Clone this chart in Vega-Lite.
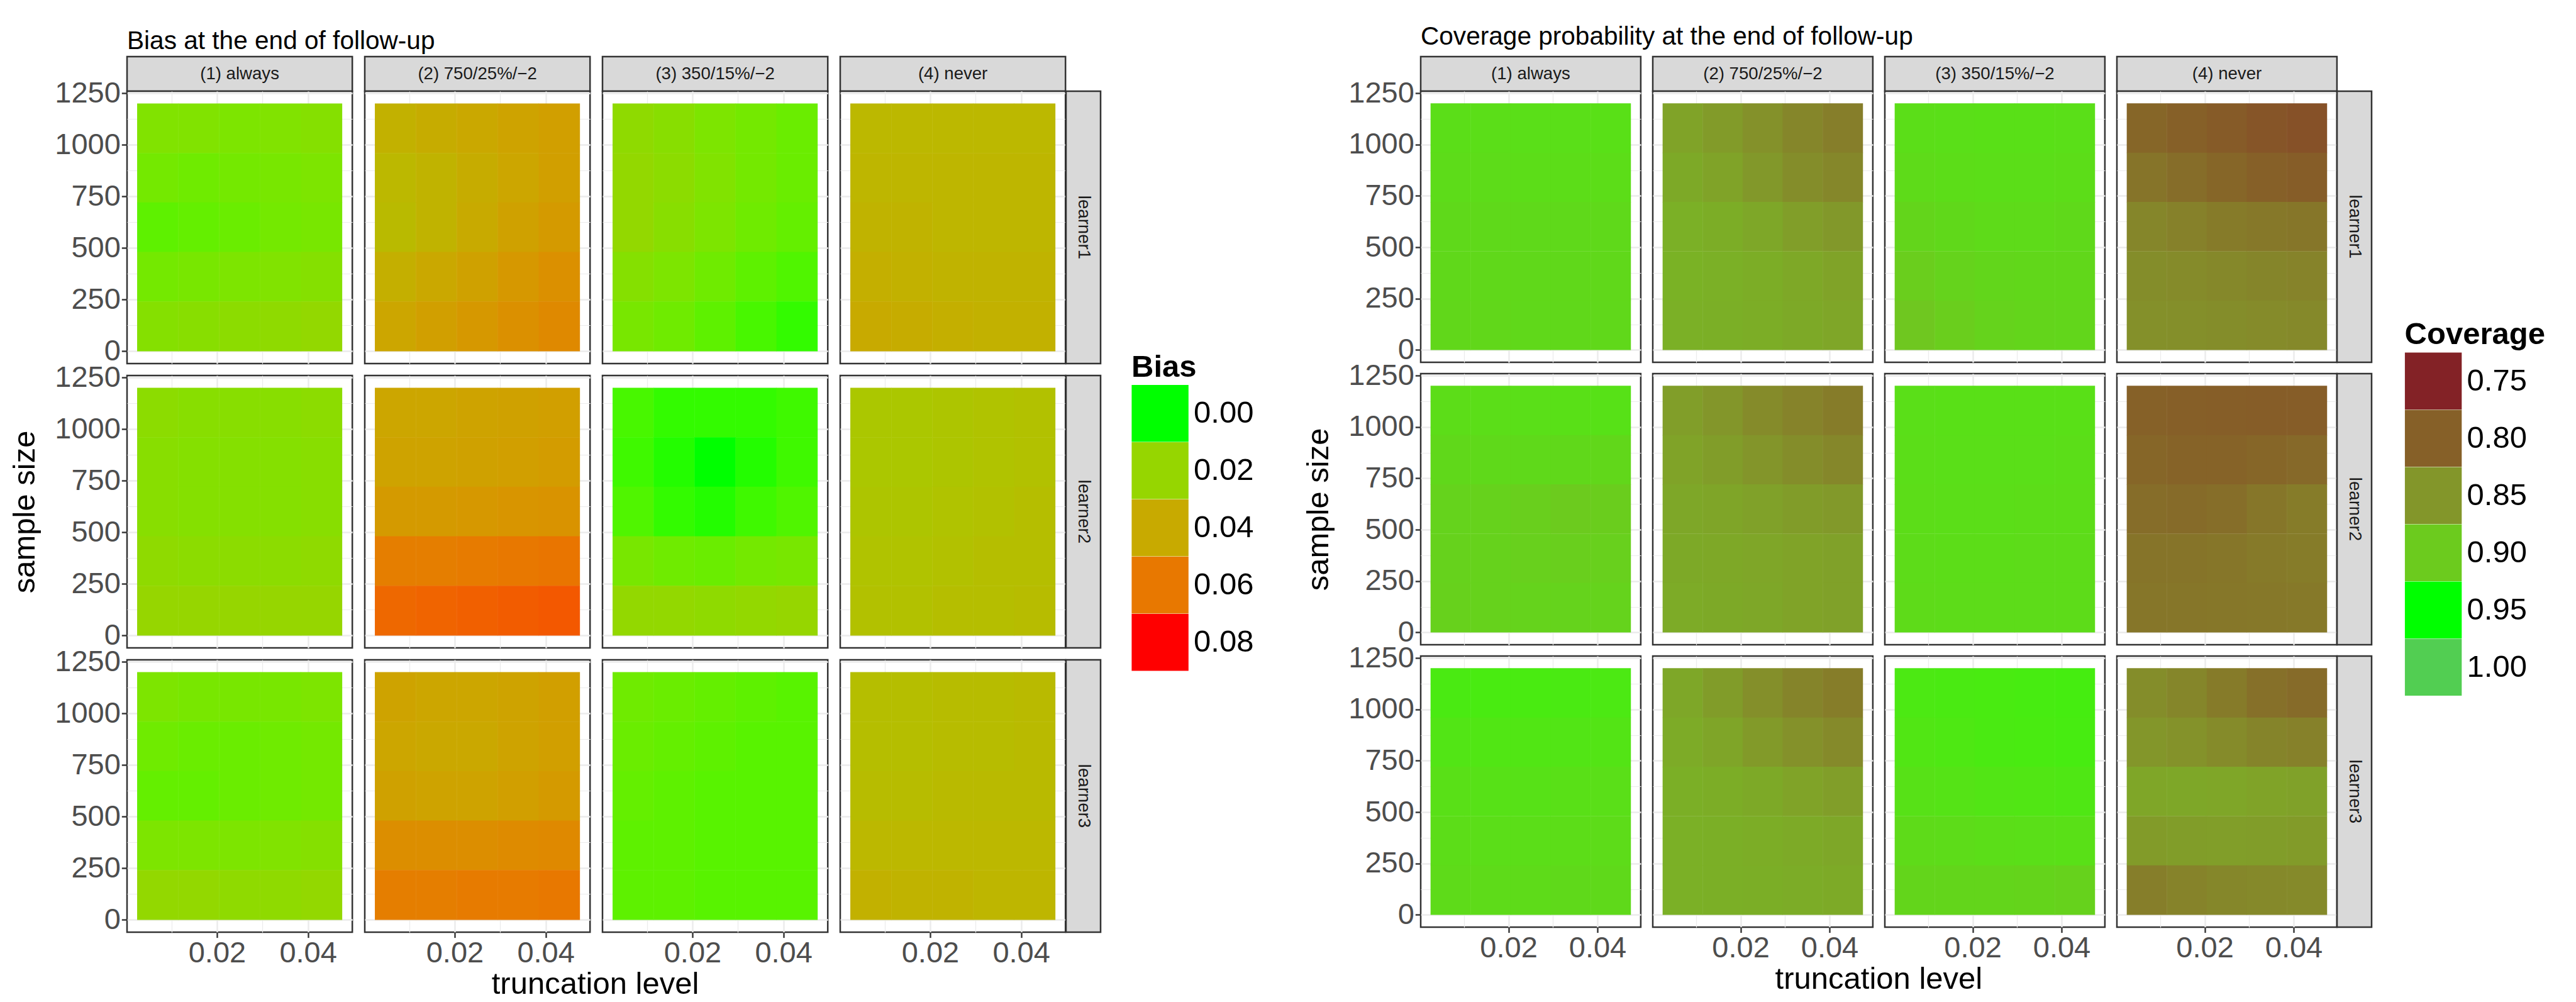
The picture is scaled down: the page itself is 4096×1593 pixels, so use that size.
{
"$schema":"https://vega.github.io/schema/vega-lite/v6.json",
"padding":{"left":14,"top":38,"right":0,"bottom":0},
"spacing":76,
"resolve":{"scale":{"color":"independent"}},
"config":{
"font":"Liberation Sans",
"view":{"stroke":null},
"axis":{"domain":false,"grid":true,"gridColor":"#EBEBEB","labelFont":"Liberation Sans","labelFontSize":47,"labelColor":"#4D4D4D","tickColor":"#333333","tickSize":8.7,"tickWidth":2.4,"labelPadding":2,"labelFlush":false,"labelOverlap":false,"titleFont":"Liberation Sans","titleFontSize":49,"titleFontWeight":"normal","titleColor":"#000000"},
"legend":{"orient":"none","symbolType":"square","symbolSize":8172,"symbolStrokeWidth":0,"symbolOpacity":1,"rowPadding":0,"labelFont":"Liberation Sans","labelFontSize":49,"labelColor":"#000000","labelOffset":8,"titleFont":"Liberation Sans","titleFontSize":49,"titleFontWeight":"bold","titleColor":"#000000","titlePadding":3,"titleLimit":600,"padding":0},
"title":{"font":"Liberation Sans","fontSize":40.6,"fontWeight":"normal","color":"#000000","anchor":"start","frame":"group"}
},
"datasets":{
"bias":[
{"l":1,"m":1,"x":0.007,"y":1080,"v":0.014},{"l":1,"m":1,"x":0.016,"y":1080,"v":0.014},{"l":1,"m":1,"x":0.025,"y":1080,"v":0.013},{"l":1,"m":1,"x":0.034,"y":1080,"v":0.014},{"l":1,"m":1,"x":0.043,"y":1080,"v":0.015},
{"l":1,"m":1,"x":0.007,"y":840,"v":0.011},{"l":1,"m":1,"x":0.016,"y":840,"v":0.010},{"l":1,"m":1,"x":0.025,"y":840,"v":0.011},{"l":1,"m":1,"x":0.034,"y":840,"v":0.012},{"l":1,"m":1,"x":0.043,"y":840,"v":0.013},
{"l":1,"m":1,"x":0.007,"y":600,"v":0.007},{"l":1,"m":1,"x":0.016,"y":600,"v":0.008},{"l":1,"m":1,"x":0.025,"y":600,"v":0.009},{"l":1,"m":1,"x":0.034,"y":600,"v":0.011},{"l":1,"m":1,"x":0.043,"y":600,"v":0.012},
{"l":1,"m":1,"x":0.007,"y":360,"v":0.011},{"l":1,"m":1,"x":0.016,"y":360,"v":0.012},{"l":1,"m":1,"x":0.025,"y":360,"v":0.013},{"l":1,"m":1,"x":0.034,"y":360,"v":0.014},{"l":1,"m":1,"x":0.043,"y":360,"v":0.015},
{"l":1,"m":1,"x":0.007,"y":120,"v":0.015},{"l":1,"m":1,"x":0.016,"y":120,"v":0.016},{"l":1,"m":1,"x":0.025,"y":120,"v":0.017},{"l":1,"m":1,"x":0.034,"y":120,"v":0.018},{"l":1,"m":1,"x":0.043,"y":120,"v":0.019},
{"l":1,"m":2,"x":0.007,"y":1080,"v":0.037},{"l":1,"m":2,"x":0.016,"y":1080,"v":0.039},{"l":1,"m":2,"x":0.025,"y":1080,"v":0.041},{"l":1,"m":2,"x":0.034,"y":1080,"v":0.043},{"l":1,"m":2,"x":0.043,"y":1080,"v":0.045},
{"l":1,"m":2,"x":0.007,"y":840,"v":0.034},{"l":1,"m":2,"x":0.016,"y":840,"v":0.036},{"l":1,"m":2,"x":0.025,"y":840,"v":0.039},{"l":1,"m":2,"x":0.034,"y":840,"v":0.042},{"l":1,"m":2,"x":0.043,"y":840,"v":0.045},
{"l":1,"m":2,"x":0.007,"y":600,"v":0.033},{"l":1,"m":2,"x":0.016,"y":600,"v":0.036},{"l":1,"m":2,"x":0.025,"y":600,"v":0.040},{"l":1,"m":2,"x":0.034,"y":600,"v":0.044},{"l":1,"m":2,"x":0.043,"y":600,"v":0.047},
{"l":1,"m":2,"x":0.007,"y":360,"v":0.038},{"l":1,"m":2,"x":0.016,"y":360,"v":0.041},{"l":1,"m":2,"x":0.025,"y":360,"v":0.044},{"l":1,"m":2,"x":0.034,"y":360,"v":0.048},{"l":1,"m":2,"x":0.043,"y":360,"v":0.051},
{"l":1,"m":2,"x":0.007,"y":120,"v":0.042},{"l":1,"m":2,"x":0.016,"y":120,"v":0.045},{"l":1,"m":2,"x":0.025,"y":120,"v":0.048},{"l":1,"m":2,"x":0.034,"y":120,"v":0.051},{"l":1,"m":2,"x":0.043,"y":120,"v":0.054},
{"l":1,"m":3,"x":0.007,"y":1080,"v":0.018},{"l":1,"m":3,"x":0.016,"y":1080,"v":0.016},{"l":1,"m":3,"x":0.025,"y":1080,"v":0.013},{"l":1,"m":3,"x":0.034,"y":1080,"v":0.011},{"l":1,"m":3,"x":0.043,"y":1080,"v":0.009},
{"l":1,"m":3,"x":0.007,"y":840,"v":0.019},{"l":1,"m":3,"x":0.016,"y":840,"v":0.017},{"l":1,"m":3,"x":0.025,"y":840,"v":0.014},{"l":1,"m":3,"x":0.034,"y":840,"v":0.011},{"l":1,"m":3,"x":0.043,"y":840,"v":0.009},
{"l":1,"m":3,"x":0.007,"y":600,"v":0.019},{"l":1,"m":3,"x":0.016,"y":600,"v":0.016},{"l":1,"m":3,"x":0.025,"y":600,"v":0.013},{"l":1,"m":3,"x":0.034,"y":600,"v":0.010},{"l":1,"m":3,"x":0.043,"y":600,"v":0.008},
{"l":1,"m":3,"x":0.007,"y":360,"v":0.015},{"l":1,"m":3,"x":0.016,"y":360,"v":0.013},{"l":1,"m":3,"x":0.025,"y":360,"v":0.010},{"l":1,"m":3,"x":0.034,"y":360,"v":0.007},{"l":1,"m":3,"x":0.043,"y":360,"v":0.005},
{"l":1,"m":3,"x":0.007,"y":120,"v":0.012},{"l":1,"m":3,"x":0.016,"y":120,"v":0.010},{"l":1,"m":3,"x":0.025,"y":120,"v":0.007},{"l":1,"m":3,"x":0.034,"y":120,"v":0.004},{"l":1,"m":3,"x":0.043,"y":120,"v":0.002},
{"l":1,"m":4,"x":0.007,"y":1080,"v":0.034},{"l":1,"m":4,"x":0.016,"y":1080,"v":0.034},{"l":1,"m":4,"x":0.025,"y":1080,"v":0.034},{"l":1,"m":4,"x":0.034,"y":1080,"v":0.034},{"l":1,"m":4,"x":0.043,"y":1080,"v":0.034},
{"l":1,"m":4,"x":0.007,"y":840,"v":0.035},{"l":1,"m":4,"x":0.016,"y":840,"v":0.035},{"l":1,"m":4,"x":0.025,"y":840,"v":0.035},{"l":1,"m":4,"x":0.034,"y":840,"v":0.035},{"l":1,"m":4,"x":0.043,"y":840,"v":0.035},
{"l":1,"m":4,"x":0.007,"y":600,"v":0.036},{"l":1,"m":4,"x":0.016,"y":600,"v":0.036},{"l":1,"m":4,"x":0.025,"y":600,"v":0.035},{"l":1,"m":4,"x":0.034,"y":600,"v":0.035},{"l":1,"m":4,"x":0.043,"y":600,"v":0.035},
{"l":1,"m":4,"x":0.007,"y":360,"v":0.038},{"l":1,"m":4,"x":0.016,"y":360,"v":0.037},{"l":1,"m":4,"x":0.025,"y":360,"v":0.036},{"l":1,"m":4,"x":0.034,"y":360,"v":0.036},{"l":1,"m":4,"x":0.043,"y":360,"v":0.036},
{"l":1,"m":4,"x":0.007,"y":120,"v":0.040},{"l":1,"m":4,"x":0.016,"y":120,"v":0.039},{"l":1,"m":4,"x":0.025,"y":120,"v":0.038},{"l":1,"m":4,"x":0.034,"y":120,"v":0.037},{"l":1,"m":4,"x":0.043,"y":120,"v":0.037},
{"l":2,"m":1,"x":0.007,"y":1080,"v":0.017},{"l":2,"m":1,"x":0.016,"y":1080,"v":0.016},{"l":2,"m":1,"x":0.025,"y":1080,"v":0.016},{"l":2,"m":1,"x":0.034,"y":1080,"v":0.016},{"l":2,"m":1,"x":0.043,"y":1080,"v":0.017},
{"l":2,"m":1,"x":0.007,"y":840,"v":0.016},{"l":2,"m":1,"x":0.016,"y":840,"v":0.015},{"l":2,"m":1,"x":0.025,"y":840,"v":0.015},{"l":2,"m":1,"x":0.034,"y":840,"v":0.015},{"l":2,"m":1,"x":0.043,"y":840,"v":0.016},
{"l":2,"m":1,"x":0.007,"y":600,"v":0.016},{"l":2,"m":1,"x":0.016,"y":600,"v":0.015},{"l":2,"m":1,"x":0.025,"y":600,"v":0.015},{"l":2,"m":1,"x":0.034,"y":600,"v":0.015},{"l":2,"m":1,"x":0.043,"y":600,"v":0.016},
{"l":2,"m":1,"x":0.007,"y":360,"v":0.018},{"l":2,"m":1,"x":0.016,"y":360,"v":0.017},{"l":2,"m":1,"x":0.025,"y":360,"v":0.017},{"l":2,"m":1,"x":0.034,"y":360,"v":0.017},{"l":2,"m":1,"x":0.043,"y":360,"v":0.018},
{"l":2,"m":1,"x":0.007,"y":120,"v":0.020},{"l":2,"m":1,"x":0.016,"y":120,"v":0.020},{"l":2,"m":1,"x":0.025,"y":120,"v":0.020},{"l":2,"m":1,"x":0.034,"y":120,"v":0.020},{"l":2,"m":1,"x":0.043,"y":120,"v":0.020},
{"l":2,"m":2,"x":0.007,"y":1080,"v":0.042},{"l":2,"m":2,"x":0.016,"y":1080,"v":0.042},{"l":2,"m":2,"x":0.025,"y":1080,"v":0.043},{"l":2,"m":2,"x":0.034,"y":1080,"v":0.044},{"l":2,"m":2,"x":0.043,"y":1080,"v":0.045},
{"l":2,"m":2,"x":0.007,"y":840,"v":0.043},{"l":2,"m":2,"x":0.016,"y":840,"v":0.043},{"l":2,"m":2,"x":0.025,"y":840,"v":0.044},{"l":2,"m":2,"x":0.034,"y":840,"v":0.045},{"l":2,"m":2,"x":0.043,"y":840,"v":0.046},
{"l":2,"m":2,"x":0.007,"y":600,"v":0.047},{"l":2,"m":2,"x":0.016,"y":600,"v":0.047},{"l":2,"m":2,"x":0.025,"y":600,"v":0.048},{"l":2,"m":2,"x":0.034,"y":600,"v":0.049},{"l":2,"m":2,"x":0.043,"y":600,"v":0.050},
{"l":2,"m":2,"x":0.007,"y":360,"v":0.058},{"l":2,"m":2,"x":0.016,"y":360,"v":0.058},{"l":2,"m":2,"x":0.025,"y":360,"v":0.059},{"l":2,"m":2,"x":0.034,"y":360,"v":0.060},{"l":2,"m":2,"x":0.043,"y":360,"v":0.061},
{"l":2,"m":2,"x":0.007,"y":120,"v":0.065},{"l":2,"m":2,"x":0.016,"y":120,"v":0.066},{"l":2,"m":2,"x":0.025,"y":120,"v":0.067},{"l":2,"m":2,"x":0.034,"y":120,"v":0.068},{"l":2,"m":2,"x":0.043,"y":120,"v":0.069},
{"l":2,"m":3,"x":0.007,"y":1080,"v":0.004},{"l":2,"m":3,"x":0.016,"y":1080,"v":0.002},{"l":2,"m":3,"x":0.025,"y":1080,"v":0.002},{"l":2,"m":3,"x":0.034,"y":1080,"v":0.002},{"l":2,"m":3,"x":0.043,"y":1080,"v":0.003},
{"l":2,"m":3,"x":0.007,"y":840,"v":0.003},{"l":2,"m":3,"x":0.016,"y":840,"v":0.001},{"l":2,"m":3,"x":0.025,"y":840,"v":0.000},{"l":2,"m":3,"x":0.034,"y":840,"v":0.001},{"l":2,"m":3,"x":0.043,"y":840,"v":0.003},
{"l":2,"m":3,"x":0.007,"y":600,"v":0.005},{"l":2,"m":3,"x":0.016,"y":600,"v":0.002},{"l":2,"m":3,"x":0.025,"y":600,"v":0.001},{"l":2,"m":3,"x":0.034,"y":600,"v":0.003},{"l":2,"m":3,"x":0.043,"y":600,"v":0.005},
{"l":2,"m":3,"x":0.007,"y":360,"v":0.012},{"l":2,"m":3,"x":0.016,"y":360,"v":0.010},{"l":2,"m":3,"x":0.025,"y":360,"v":0.009},{"l":2,"m":3,"x":0.034,"y":360,"v":0.011},{"l":2,"m":3,"x":0.043,"y":360,"v":0.012},
{"l":2,"m":3,"x":0.007,"y":120,"v":0.019},{"l":2,"m":3,"x":0.016,"y":120,"v":0.019},{"l":2,"m":3,"x":0.025,"y":120,"v":0.018},{"l":2,"m":3,"x":0.034,"y":120,"v":0.019},{"l":2,"m":3,"x":0.043,"y":120,"v":0.020},
{"l":2,"m":4,"x":0.007,"y":1080,"v":0.027},{"l":2,"m":4,"x":0.016,"y":1080,"v":0.027},{"l":2,"m":4,"x":0.025,"y":1080,"v":0.028},{"l":2,"m":4,"x":0.034,"y":1080,"v":0.029},{"l":2,"m":4,"x":0.043,"y":1080,"v":0.030},
{"l":2,"m":4,"x":0.007,"y":840,"v":0.027},{"l":2,"m":4,"x":0.016,"y":840,"v":0.027},{"l":2,"m":4,"x":0.025,"y":840,"v":0.028},{"l":2,"m":4,"x":0.034,"y":840,"v":0.029},{"l":2,"m":4,"x":0.043,"y":840,"v":0.030},
{"l":2,"m":4,"x":0.007,"y":600,"v":0.028},{"l":2,"m":4,"x":0.016,"y":600,"v":0.028},{"l":2,"m":4,"x":0.025,"y":600,"v":0.029},{"l":2,"m":4,"x":0.034,"y":600,"v":0.030},{"l":2,"m":4,"x":0.043,"y":600,"v":0.031},
{"l":2,"m":4,"x":0.007,"y":360,"v":0.029},{"l":2,"m":4,"x":0.016,"y":360,"v":0.029},{"l":2,"m":4,"x":0.025,"y":360,"v":0.030},{"l":2,"m":4,"x":0.034,"y":360,"v":0.031},{"l":2,"m":4,"x":0.043,"y":360,"v":0.031},
{"l":2,"m":4,"x":0.007,"y":120,"v":0.030},{"l":2,"m":4,"x":0.016,"y":120,"v":0.030},{"l":2,"m":4,"x":0.025,"y":120,"v":0.031},{"l":2,"m":4,"x":0.034,"y":120,"v":0.031},{"l":2,"m":4,"x":0.043,"y":120,"v":0.032},
{"l":3,"m":1,"x":0.007,"y":1080,"v":0.013},{"l":3,"m":1,"x":0.016,"y":1080,"v":0.012},{"l":3,"m":1,"x":0.025,"y":1080,"v":0.012},{"l":3,"m":1,"x":0.034,"y":1080,"v":0.012},{"l":3,"m":1,"x":0.043,"y":1080,"v":0.013},
{"l":3,"m":1,"x":0.007,"y":840,"v":0.010},{"l":3,"m":1,"x":0.016,"y":840,"v":0.009},{"l":3,"m":1,"x":0.025,"y":840,"v":0.009},{"l":3,"m":1,"x":0.034,"y":840,"v":0.010},{"l":3,"m":1,"x":0.043,"y":840,"v":0.011},
{"l":3,"m":1,"x":0.007,"y":600,"v":0.008},{"l":3,"m":1,"x":0.016,"y":600,"v":0.008},{"l":3,"m":1,"x":0.025,"y":600,"v":0.009},{"l":3,"m":1,"x":0.034,"y":600,"v":0.010},{"l":3,"m":1,"x":0.043,"y":600,"v":0.011},
{"l":3,"m":1,"x":0.007,"y":360,"v":0.013},{"l":3,"m":1,"x":0.016,"y":360,"v":0.013},{"l":3,"m":1,"x":0.025,"y":360,"v":0.013},{"l":3,"m":1,"x":0.034,"y":360,"v":0.014},{"l":3,"m":1,"x":0.043,"y":360,"v":0.015},
{"l":3,"m":1,"x":0.007,"y":120,"v":0.019},{"l":3,"m":1,"x":0.016,"y":120,"v":0.019},{"l":3,"m":1,"x":0.025,"y":120,"v":0.018},{"l":3,"m":1,"x":0.034,"y":120,"v":0.018},{"l":3,"m":1,"x":0.043,"y":120,"v":0.019},
{"l":3,"m":2,"x":0.007,"y":1080,"v":0.043},{"l":3,"m":2,"x":0.016,"y":1080,"v":0.042},{"l":3,"m":2,"x":0.025,"y":1080,"v":0.042},{"l":3,"m":2,"x":0.034,"y":1080,"v":0.043},{"l":3,"m":2,"x":0.043,"y":1080,"v":0.045},
{"l":3,"m":2,"x":0.007,"y":840,"v":0.042},{"l":3,"m":2,"x":0.016,"y":840,"v":0.041},{"l":3,"m":2,"x":0.025,"y":840,"v":0.041},{"l":3,"m":2,"x":0.034,"y":840,"v":0.043},{"l":3,"m":2,"x":0.043,"y":840,"v":0.045},
{"l":3,"m":2,"x":0.007,"y":600,"v":0.044},{"l":3,"m":2,"x":0.016,"y":600,"v":0.043},{"l":3,"m":2,"x":0.025,"y":600,"v":0.043},{"l":3,"m":2,"x":0.034,"y":600,"v":0.045},{"l":3,"m":2,"x":0.043,"y":600,"v":0.047},
{"l":3,"m":2,"x":0.007,"y":360,"v":0.052},{"l":3,"m":2,"x":0.016,"y":360,"v":0.052},{"l":3,"m":2,"x":0.025,"y":360,"v":0.052},{"l":3,"m":2,"x":0.034,"y":360,"v":0.053},{"l":3,"m":2,"x":0.043,"y":360,"v":0.054},
{"l":3,"m":2,"x":0.007,"y":120,"v":0.058},{"l":3,"m":2,"x":0.016,"y":120,"v":0.058},{"l":3,"m":2,"x":0.025,"y":120,"v":0.059},{"l":3,"m":2,"x":0.034,"y":120,"v":0.059},{"l":3,"m":2,"x":0.043,"y":120,"v":0.060},
{"l":3,"m":3,"x":0.007,"y":1080,"v":0.010},{"l":3,"m":3,"x":0.016,"y":1080,"v":0.009},{"l":3,"m":3,"x":0.025,"y":1080,"v":0.008},{"l":3,"m":3,"x":0.034,"y":1080,"v":0.007},{"l":3,"m":3,"x":0.043,"y":1080,"v":0.006},
{"l":3,"m":3,"x":0.007,"y":840,"v":0.009},{"l":3,"m":3,"x":0.016,"y":840,"v":0.008},{"l":3,"m":3,"x":0.025,"y":840,"v":0.007},{"l":3,"m":3,"x":0.034,"y":840,"v":0.006},{"l":3,"m":3,"x":0.043,"y":840,"v":0.006},
{"l":3,"m":3,"x":0.007,"y":600,"v":0.008},{"l":3,"m":3,"x":0.016,"y":600,"v":0.007},{"l":3,"m":3,"x":0.025,"y":600,"v":0.006},{"l":3,"m":3,"x":0.034,"y":600,"v":0.006},{"l":3,"m":3,"x":0.043,"y":600,"v":0.006},
{"l":3,"m":3,"x":0.007,"y":360,"v":0.007},{"l":3,"m":3,"x":0.016,"y":360,"v":0.007},{"l":3,"m":3,"x":0.025,"y":360,"v":0.006},{"l":3,"m":3,"x":0.034,"y":360,"v":0.006},{"l":3,"m":3,"x":0.043,"y":360,"v":0.006},
{"l":3,"m":3,"x":0.007,"y":120,"v":0.007},{"l":3,"m":3,"x":0.016,"y":120,"v":0.007},{"l":3,"m":3,"x":0.025,"y":120,"v":0.006},{"l":3,"m":3,"x":0.034,"y":120,"v":0.006},{"l":3,"m":3,"x":0.043,"y":120,"v":0.006},
{"l":3,"m":4,"x":0.007,"y":1080,"v":0.031},{"l":3,"m":4,"x":0.016,"y":1080,"v":0.031},{"l":3,"m":4,"x":0.025,"y":1080,"v":0.032},{"l":3,"m":4,"x":0.034,"y":1080,"v":0.032},{"l":3,"m":4,"x":0.043,"y":1080,"v":0.033},
{"l":3,"m":4,"x":0.007,"y":840,"v":0.031},{"l":3,"m":4,"x":0.016,"y":840,"v":0.031},{"l":3,"m":4,"x":0.025,"y":840,"v":0.032},{"l":3,"m":4,"x":0.034,"y":840,"v":0.032},{"l":3,"m":4,"x":0.043,"y":840,"v":0.033},
{"l":3,"m":4,"x":0.007,"y":600,"v":0.032},{"l":3,"m":4,"x":0.016,"y":600,"v":0.032},{"l":3,"m":4,"x":0.025,"y":600,"v":0.033},{"l":3,"m":4,"x":0.034,"y":600,"v":0.033},{"l":3,"m":4,"x":0.043,"y":600,"v":0.033},
{"l":3,"m":4,"x":0.007,"y":360,"v":0.034},{"l":3,"m":4,"x":0.016,"y":360,"v":0.034},{"l":3,"m":4,"x":0.025,"y":360,"v":0.034},{"l":3,"m":4,"x":0.034,"y":360,"v":0.034},{"l":3,"m":4,"x":0.043,"y":360,"v":0.034},
{"l":3,"m":4,"x":0.007,"y":120,"v":0.037},{"l":3,"m":4,"x":0.016,"y":120,"v":0.036},{"l":3,"m":4,"x":0.025,"y":120,"v":0.036},{"l":3,"m":4,"x":0.034,"y":120,"v":0.035},{"l":3,"m":4,"x":0.043,"y":120,"v":0.035}
],
"cov":[
{"l":1,"m":1,"x":0.007,"y":1080,"v":0.918},{"l":1,"m":1,"x":0.016,"y":1080,"v":0.918},{"l":1,"m":1,"x":0.025,"y":1080,"v":0.919},{"l":1,"m":1,"x":0.034,"y":1080,"v":0.919},{"l":1,"m":1,"x":0.043,"y":1080,"v":0.920},
{"l":1,"m":1,"x":0.007,"y":840,"v":0.916},{"l":1,"m":1,"x":0.016,"y":840,"v":0.916},{"l":1,"m":1,"x":0.025,"y":840,"v":0.917},{"l":1,"m":1,"x":0.034,"y":840,"v":0.917},{"l":1,"m":1,"x":0.043,"y":840,"v":0.917},
{"l":1,"m":1,"x":0.007,"y":600,"v":0.914},{"l":1,"m":1,"x":0.016,"y":600,"v":0.914},{"l":1,"m":1,"x":0.025,"y":600,"v":0.914},{"l":1,"m":1,"x":0.034,"y":600,"v":0.914},{"l":1,"m":1,"x":0.043,"y":600,"v":0.914},
{"l":1,"m":1,"x":0.007,"y":360,"v":0.913},{"l":1,"m":1,"x":0.016,"y":360,"v":0.913},{"l":1,"m":1,"x":0.025,"y":360,"v":0.913},{"l":1,"m":1,"x":0.034,"y":360,"v":0.913},{"l":1,"m":1,"x":0.043,"y":360,"v":0.913},
{"l":1,"m":1,"x":0.007,"y":120,"v":0.912},{"l":1,"m":1,"x":0.016,"y":120,"v":0.912},{"l":1,"m":1,"x":0.025,"y":120,"v":0.913},{"l":1,"m":1,"x":0.034,"y":120,"v":0.913},{"l":1,"m":1,"x":0.043,"y":120,"v":0.913},
{"l":1,"m":2,"x":0.007,"y":1080,"v":0.862},{"l":1,"m":2,"x":0.016,"y":1080,"v":0.855},{"l":1,"m":2,"x":0.025,"y":1080,"v":0.845},{"l":1,"m":2,"x":0.034,"y":1080,"v":0.835},{"l":1,"m":2,"x":0.043,"y":1080,"v":0.828},
{"l":1,"m":2,"x":0.007,"y":840,"v":0.868},{"l":1,"m":2,"x":0.016,"y":840,"v":0.862},{"l":1,"m":2,"x":0.025,"y":840,"v":0.852},{"l":1,"m":2,"x":0.034,"y":840,"v":0.842},{"l":1,"m":2,"x":0.043,"y":840,"v":0.836},
{"l":1,"m":2,"x":0.007,"y":600,"v":0.875},{"l":1,"m":2,"x":0.016,"y":600,"v":0.872},{"l":1,"m":2,"x":0.025,"y":600,"v":0.866},{"l":1,"m":2,"x":0.034,"y":600,"v":0.858},{"l":1,"m":2,"x":0.043,"y":600,"v":0.852},
{"l":1,"m":2,"x":0.007,"y":360,"v":0.876},{"l":1,"m":2,"x":0.016,"y":360,"v":0.875},{"l":1,"m":2,"x":0.025,"y":360,"v":0.872},{"l":1,"m":2,"x":0.034,"y":360,"v":0.867},{"l":1,"m":2,"x":0.043,"y":360,"v":0.862},
{"l":1,"m":2,"x":0.007,"y":120,"v":0.875},{"l":1,"m":2,"x":0.016,"y":120,"v":0.874},{"l":1,"m":2,"x":0.025,"y":120,"v":0.872},{"l":1,"m":2,"x":0.034,"y":120,"v":0.868},{"l":1,"m":2,"x":0.043,"y":120,"v":0.865},
{"l":1,"m":3,"x":0.007,"y":1080,"v":0.918},{"l":1,"m":3,"x":0.016,"y":1080,"v":0.919},{"l":1,"m":3,"x":0.025,"y":1080,"v":0.920},{"l":1,"m":3,"x":0.034,"y":1080,"v":0.920},{"l":1,"m":3,"x":0.043,"y":1080,"v":0.919},
{"l":1,"m":3,"x":0.007,"y":840,"v":0.915},{"l":1,"m":3,"x":0.016,"y":840,"v":0.917},{"l":1,"m":3,"x":0.025,"y":840,"v":0.918},{"l":1,"m":3,"x":0.034,"y":840,"v":0.918},{"l":1,"m":3,"x":0.043,"y":840,"v":0.917},
{"l":1,"m":3,"x":0.007,"y":600,"v":0.910},{"l":1,"m":3,"x":0.016,"y":600,"v":0.913},{"l":1,"m":3,"x":0.025,"y":600,"v":0.915},{"l":1,"m":3,"x":0.034,"y":600,"v":0.915},{"l":1,"m":3,"x":0.043,"y":600,"v":0.914},
{"l":1,"m":3,"x":0.007,"y":360,"v":0.903},{"l":1,"m":3,"x":0.016,"y":360,"v":0.908},{"l":1,"m":3,"x":0.025,"y":360,"v":0.911},{"l":1,"m":3,"x":0.034,"y":360,"v":0.912},{"l":1,"m":3,"x":0.043,"y":360,"v":0.912},
{"l":1,"m":3,"x":0.007,"y":120,"v":0.896},{"l":1,"m":3,"x":0.016,"y":120,"v":0.903},{"l":1,"m":3,"x":0.025,"y":120,"v":0.908},{"l":1,"m":3,"x":0.034,"y":120,"v":0.910},{"l":1,"m":3,"x":0.043,"y":120,"v":0.911},
{"l":1,"m":4,"x":0.007,"y":1080,"v":0.805},{"l":1,"m":4,"x":0.016,"y":1080,"v":0.800},{"l":1,"m":4,"x":0.025,"y":1080,"v":0.795},{"l":1,"m":4,"x":0.034,"y":1080,"v":0.790},{"l":1,"m":4,"x":0.043,"y":1080,"v":0.786},
{"l":1,"m":4,"x":0.007,"y":840,"v":0.818},{"l":1,"m":4,"x":0.016,"y":840,"v":0.812},{"l":1,"m":4,"x":0.025,"y":840,"v":0.805},{"l":1,"m":4,"x":0.034,"y":840,"v":0.800},{"l":1,"m":4,"x":0.043,"y":840,"v":0.797},
{"l":1,"m":4,"x":0.007,"y":600,"v":0.835},{"l":1,"m":4,"x":0.016,"y":600,"v":0.830},{"l":1,"m":4,"x":0.025,"y":600,"v":0.825},{"l":1,"m":4,"x":0.034,"y":600,"v":0.822},{"l":1,"m":4,"x":0.043,"y":600,"v":0.820},
{"l":1,"m":4,"x":0.007,"y":360,"v":0.842},{"l":1,"m":4,"x":0.016,"y":360,"v":0.840},{"l":1,"m":4,"x":0.025,"y":360,"v":0.837},{"l":1,"m":4,"x":0.034,"y":360,"v":0.834},{"l":1,"m":4,"x":0.043,"y":360,"v":0.832},
{"l":1,"m":4,"x":0.007,"y":120,"v":0.844},{"l":1,"m":4,"x":0.016,"y":120,"v":0.843},{"l":1,"m":4,"x":0.025,"y":120,"v":0.842},{"l":1,"m":4,"x":0.034,"y":120,"v":0.840},{"l":1,"m":4,"x":0.043,"y":120,"v":0.838},
{"l":2,"m":1,"x":0.007,"y":1080,"v":0.917},{"l":2,"m":1,"x":0.016,"y":1080,"v":0.918},{"l":2,"m":1,"x":0.025,"y":1080,"v":0.919},{"l":2,"m":1,"x":0.034,"y":1080,"v":0.920},{"l":2,"m":1,"x":0.043,"y":1080,"v":0.921},
{"l":2,"m":1,"x":0.007,"y":840,"v":0.913},{"l":2,"m":1,"x":0.016,"y":840,"v":0.914},{"l":2,"m":1,"x":0.025,"y":840,"v":0.914},{"l":2,"m":1,"x":0.034,"y":840,"v":0.913},{"l":2,"m":1,"x":0.043,"y":840,"v":0.912},
{"l":2,"m":1,"x":0.007,"y":600,"v":0.908},{"l":2,"m":1,"x":0.016,"y":600,"v":0.907},{"l":2,"m":1,"x":0.025,"y":600,"v":0.904},{"l":2,"m":1,"x":0.034,"y":600,"v":0.900},{"l":2,"m":1,"x":0.043,"y":600,"v":0.902},
{"l":2,"m":1,"x":0.007,"y":360,"v":0.907},{"l":2,"m":1,"x":0.016,"y":360,"v":0.907},{"l":2,"m":1,"x":0.025,"y":360,"v":0.905},{"l":2,"m":1,"x":0.034,"y":360,"v":0.904},{"l":2,"m":1,"x":0.043,"y":360,"v":0.905},
{"l":2,"m":1,"x":0.007,"y":120,"v":0.906},{"l":2,"m":1,"x":0.016,"y":120,"v":0.907},{"l":2,"m":1,"x":0.025,"y":120,"v":0.908},{"l":2,"m":1,"x":0.034,"y":120,"v":0.908},{"l":2,"m":1,"x":0.043,"y":120,"v":0.908},
{"l":2,"m":2,"x":0.007,"y":1080,"v":0.858},{"l":2,"m":2,"x":0.016,"y":1080,"v":0.850},{"l":2,"m":2,"x":0.025,"y":1080,"v":0.840},{"l":2,"m":2,"x":0.034,"y":1080,"v":0.832},{"l":2,"m":2,"x":0.043,"y":1080,"v":0.826},
{"l":2,"m":2,"x":0.007,"y":840,"v":0.862},{"l":2,"m":2,"x":0.016,"y":840,"v":0.857},{"l":2,"m":2,"x":0.025,"y":840,"v":0.849},{"l":2,"m":2,"x":0.034,"y":840,"v":0.842},{"l":2,"m":2,"x":0.043,"y":840,"v":0.836},
{"l":2,"m":2,"x":0.007,"y":600,"v":0.866},{"l":2,"m":2,"x":0.016,"y":600,"v":0.864},{"l":2,"m":2,"x":0.025,"y":600,"v":0.860},{"l":2,"m":2,"x":0.034,"y":600,"v":0.856},{"l":2,"m":2,"x":0.043,"y":600,"v":0.853},
{"l":2,"m":2,"x":0.007,"y":360,"v":0.868},{"l":2,"m":2,"x":0.016,"y":360,"v":0.867},{"l":2,"m":2,"x":0.025,"y":360,"v":0.865},{"l":2,"m":2,"x":0.034,"y":360,"v":0.862},{"l":2,"m":2,"x":0.043,"y":360,"v":0.860},
{"l":2,"m":2,"x":0.007,"y":120,"v":0.870},{"l":2,"m":2,"x":0.016,"y":120,"v":0.868},{"l":2,"m":2,"x":0.025,"y":120,"v":0.866},{"l":2,"m":2,"x":0.034,"y":120,"v":0.862},{"l":2,"m":2,"x":0.043,"y":120,"v":0.860},
{"l":2,"m":3,"x":0.007,"y":1080,"v":0.919},{"l":2,"m":3,"x":0.016,"y":1080,"v":0.920},{"l":2,"m":3,"x":0.025,"y":1080,"v":0.920},{"l":2,"m":3,"x":0.034,"y":1080,"v":0.920},{"l":2,"m":3,"x":0.043,"y":1080,"v":0.920},
{"l":2,"m":3,"x":0.007,"y":840,"v":0.918},{"l":2,"m":3,"x":0.016,"y":840,"v":0.919},{"l":2,"m":3,"x":0.025,"y":840,"v":0.919},{"l":2,"m":3,"x":0.034,"y":840,"v":0.919},{"l":2,"m":3,"x":0.043,"y":840,"v":0.918},
{"l":2,"m":3,"x":0.007,"y":600,"v":0.917},{"l":2,"m":3,"x":0.016,"y":600,"v":0.918},{"l":2,"m":3,"x":0.025,"y":600,"v":0.918},{"l":2,"m":3,"x":0.034,"y":600,"v":0.917},{"l":2,"m":3,"x":0.043,"y":600,"v":0.917},
{"l":2,"m":3,"x":0.007,"y":360,"v":0.916},{"l":2,"m":3,"x":0.016,"y":360,"v":0.917},{"l":2,"m":3,"x":0.025,"y":360,"v":0.917},{"l":2,"m":3,"x":0.034,"y":360,"v":0.916},{"l":2,"m":3,"x":0.043,"y":360,"v":0.916},
{"l":2,"m":3,"x":0.007,"y":120,"v":0.915},{"l":2,"m":3,"x":0.016,"y":120,"v":0.916},{"l":2,"m":3,"x":0.025,"y":120,"v":0.916},{"l":2,"m":3,"x":0.034,"y":120,"v":0.916},{"l":2,"m":3,"x":0.043,"y":120,"v":0.916},
{"l":2,"m":4,"x":0.007,"y":1080,"v":0.801},{"l":2,"m":4,"x":0.016,"y":1080,"v":0.799},{"l":2,"m":4,"x":0.025,"y":1080,"v":0.798},{"l":2,"m":4,"x":0.034,"y":1080,"v":0.797},{"l":2,"m":4,"x":0.043,"y":1080,"v":0.797},
{"l":2,"m":4,"x":0.007,"y":840,"v":0.805},{"l":2,"m":4,"x":0.016,"y":840,"v":0.803},{"l":2,"m":4,"x":0.025,"y":840,"v":0.803},{"l":2,"m":4,"x":0.034,"y":840,"v":0.805},{"l":2,"m":4,"x":0.043,"y":840,"v":0.808},
{"l":2,"m":4,"x":0.007,"y":600,"v":0.812},{"l":2,"m":4,"x":0.016,"y":600,"v":0.810},{"l":2,"m":4,"x":0.025,"y":600,"v":0.813},{"l":2,"m":4,"x":0.034,"y":600,"v":0.820},{"l":2,"m":4,"x":0.043,"y":600,"v":0.826},
{"l":2,"m":4,"x":0.007,"y":360,"v":0.818},{"l":2,"m":4,"x":0.016,"y":360,"v":0.818},{"l":2,"m":4,"x":0.025,"y":360,"v":0.820},{"l":2,"m":4,"x":0.034,"y":360,"v":0.824},{"l":2,"m":4,"x":0.043,"y":360,"v":0.826},
{"l":2,"m":4,"x":0.007,"y":120,"v":0.820},{"l":2,"m":4,"x":0.016,"y":120,"v":0.820},{"l":2,"m":4,"x":0.025,"y":120,"v":0.821},{"l":2,"m":4,"x":0.034,"y":120,"v":0.822},{"l":2,"m":4,"x":0.043,"y":120,"v":0.823},
{"l":3,"m":1,"x":0.007,"y":1080,"v":0.930},{"l":3,"m":1,"x":0.016,"y":1080,"v":0.931},{"l":3,"m":1,"x":0.025,"y":1080,"v":0.931},{"l":3,"m":1,"x":0.034,"y":1080,"v":0.930},{"l":3,"m":1,"x":0.043,"y":1080,"v":0.929},
{"l":3,"m":1,"x":0.007,"y":840,"v":0.925},{"l":3,"m":1,"x":0.016,"y":840,"v":0.926},{"l":3,"m":1,"x":0.025,"y":840,"v":0.926},{"l":3,"m":1,"x":0.034,"y":840,"v":0.925},{"l":3,"m":1,"x":0.043,"y":840,"v":0.924},
{"l":3,"m":1,"x":0.007,"y":600,"v":0.920},{"l":3,"m":1,"x":0.016,"y":600,"v":0.921},{"l":3,"m":1,"x":0.025,"y":600,"v":0.921},{"l":3,"m":1,"x":0.034,"y":600,"v":0.920},{"l":3,"m":1,"x":0.043,"y":600,"v":0.919},
{"l":3,"m":1,"x":0.007,"y":360,"v":0.917},{"l":3,"m":1,"x":0.016,"y":360,"v":0.918},{"l":3,"m":1,"x":0.025,"y":360,"v":0.918},{"l":3,"m":1,"x":0.034,"y":360,"v":0.917},{"l":3,"m":1,"x":0.043,"y":360,"v":0.916},
{"l":3,"m":1,"x":0.007,"y":120,"v":0.915},{"l":3,"m":1,"x":0.016,"y":120,"v":0.915},{"l":3,"m":1,"x":0.025,"y":120,"v":0.915},{"l":3,"m":1,"x":0.034,"y":120,"v":0.914},{"l":3,"m":1,"x":0.043,"y":120,"v":0.914},
{"l":3,"m":2,"x":0.007,"y":1080,"v":0.866},{"l":3,"m":2,"x":0.016,"y":1080,"v":0.856},{"l":3,"m":2,"x":0.025,"y":1080,"v":0.843},{"l":3,"m":2,"x":0.034,"y":1080,"v":0.833},{"l":3,"m":2,"x":0.043,"y":1080,"v":0.827},
{"l":3,"m":2,"x":0.007,"y":840,"v":0.870},{"l":3,"m":2,"x":0.016,"y":840,"v":0.864},{"l":3,"m":2,"x":0.025,"y":840,"v":0.854},{"l":3,"m":2,"x":0.034,"y":840,"v":0.845},{"l":3,"m":2,"x":0.043,"y":840,"v":0.839},
{"l":3,"m":2,"x":0.007,"y":600,"v":0.874},{"l":3,"m":2,"x":0.016,"y":600,"v":0.872},{"l":3,"m":2,"x":0.025,"y":600,"v":0.868},{"l":3,"m":2,"x":0.034,"y":600,"v":0.862},{"l":3,"m":2,"x":0.043,"y":600,"v":0.858},
{"l":3,"m":2,"x":0.007,"y":360,"v":0.875},{"l":3,"m":2,"x":0.016,"y":360,"v":0.874},{"l":3,"m":2,"x":0.025,"y":360,"v":0.872},{"l":3,"m":2,"x":0.034,"y":360,"v":0.869},{"l":3,"m":2,"x":0.043,"y":360,"v":0.866},
{"l":3,"m":2,"x":0.007,"y":120,"v":0.875},{"l":3,"m":2,"x":0.016,"y":120,"v":0.874},{"l":3,"m":2,"x":0.025,"y":120,"v":0.873},{"l":3,"m":2,"x":0.034,"y":120,"v":0.871},{"l":3,"m":2,"x":0.043,"y":120,"v":0.869},
{"l":3,"m":3,"x":0.007,"y":1080,"v":0.929},{"l":3,"m":3,"x":0.016,"y":1080,"v":0.930},{"l":3,"m":3,"x":0.025,"y":1080,"v":0.931},{"l":3,"m":3,"x":0.034,"y":1080,"v":0.932},{"l":3,"m":3,"x":0.043,"y":1080,"v":0.933},
{"l":3,"m":3,"x":0.007,"y":840,"v":0.926},{"l":3,"m":3,"x":0.016,"y":840,"v":0.928},{"l":3,"m":3,"x":0.025,"y":840,"v":0.930},{"l":3,"m":3,"x":0.034,"y":840,"v":0.931},{"l":3,"m":3,"x":0.043,"y":840,"v":0.932},
{"l":3,"m":3,"x":0.007,"y":600,"v":0.921},{"l":3,"m":3,"x":0.016,"y":600,"v":0.923},{"l":3,"m":3,"x":0.025,"y":600,"v":0.925},{"l":3,"m":3,"x":0.034,"y":600,"v":0.926},{"l":3,"m":3,"x":0.043,"y":600,"v":0.927},
{"l":3,"m":3,"x":0.007,"y":360,"v":0.915},{"l":3,"m":3,"x":0.016,"y":360,"v":0.916},{"l":3,"m":3,"x":0.025,"y":360,"v":0.918},{"l":3,"m":3,"x":0.034,"y":360,"v":0.919},{"l":3,"m":3,"x":0.043,"y":360,"v":0.920},
{"l":3,"m":3,"x":0.007,"y":120,"v":0.910},{"l":3,"m":3,"x":0.016,"y":120,"v":0.910},{"l":3,"m":3,"x":0.025,"y":120,"v":0.910},{"l":3,"m":3,"x":0.034,"y":120,"v":0.909},{"l":3,"m":3,"x":0.043,"y":120,"v":0.907},
{"l":3,"m":4,"x":0.007,"y":1080,"v":0.842},{"l":3,"m":4,"x":0.016,"y":1080,"v":0.835},{"l":3,"m":4,"x":0.025,"y":1080,"v":0.825},{"l":3,"m":4,"x":0.034,"y":1080,"v":0.815},{"l":3,"m":4,"x":0.043,"y":1080,"v":0.810},
{"l":3,"m":4,"x":0.007,"y":840,"v":0.850},{"l":3,"m":4,"x":0.016,"y":840,"v":0.846},{"l":3,"m":4,"x":0.025,"y":840,"v":0.840},{"l":3,"m":4,"x":0.034,"y":840,"v":0.833},{"l":3,"m":4,"x":0.043,"y":840,"v":0.830},
{"l":3,"m":4,"x":0.007,"y":600,"v":0.865},{"l":3,"m":4,"x":0.016,"y":600,"v":0.866},{"l":3,"m":4,"x":0.025,"y":600,"v":0.865},{"l":3,"m":4,"x":0.034,"y":600,"v":0.862},{"l":3,"m":4,"x":0.043,"y":600,"v":0.860},
{"l":3,"m":4,"x":0.007,"y":360,"v":0.855},{"l":3,"m":4,"x":0.016,"y":360,"v":0.857},{"l":3,"m":4,"x":0.025,"y":360,"v":0.858},{"l":3,"m":4,"x":0.034,"y":360,"v":0.857},{"l":3,"m":4,"x":0.043,"y":360,"v":0.855},
{"l":3,"m":4,"x":0.007,"y":120,"v":0.828},{"l":3,"m":4,"x":0.016,"y":120,"v":0.832},{"l":3,"m":4,"x":0.025,"y":120,"v":0.836},{"l":3,"m":4,"x":0.034,"y":120,"v":0.838},{"l":3,"m":4,"x":0.043,"y":120,"v":0.839}
]
},
"hconcat":[
{"title":{"text":"Bias at the end of follow-up","offset":2},"columns":8,"spacing":0,"bounds":"flush","align":"each","concat":[
{"width":358.2,"height":55,"view":{"fill":"#D9D9D9","stroke":"#333333","strokeWidth":2.5},"data":{"values":[{"t":"(1) always"}]},"mark":{"type":"text","fontSize":27.6,"color":"#1A1A1A"},"encoding":{"text":{"field":"t"}}},
{"width":18.4,"height":1,"data":{"values":[]},"mark":"point"},
{"width":358.2,"height":55,"view":{"fill":"#D9D9D9","stroke":"#333333","strokeWidth":2.5},"data":{"values":[{"t":"(2) 750/25%/−2"}]},"mark":{"type":"text","fontSize":27.6,"color":"#1A1A1A"},"encoding":{"text":{"field":"t"}}},
{"width":18.4,"height":1,"data":{"values":[]},"mark":"point"},
{"width":358.2,"height":55,"view":{"fill":"#D9D9D9","stroke":"#333333","strokeWidth":2.5},"data":{"values":[{"t":"(3) 350/15%/−2"}]},"mark":{"type":"text","fontSize":27.6,"color":"#1A1A1A"},"encoding":{"text":{"field":"t"}}},
{"width":18.4,"height":1,"data":{"values":[]},"mark":"point"},
{"width":358.2,"height":55,"view":{"fill":"#D9D9D9","stroke":"#333333","strokeWidth":2.5},"data":{"values":[{"t":"(4) never"}]},"mark":{"type":"text","fontSize":27.6,"color":"#1A1A1A"},"encoding":{"text":{"field":"t"}}},
{"width":1,"height":1,"data":{"values":[]},"mark":"point"},

{"width":358.2,"height":432.9,"view":{"fill":"#FFFFFF","stroke":"#333333","strokeWidth":2.5},"data":{"name":"bias"},"transform":[{"filter":"datum.l==1&&datum.m==1"}],"mark":{"type":"rect","width":65.6,"height":79.2},"encoding":{"x":{"field":"x","type":"quantitative","scale":{"domain":[0.00025,0.04975],"nice":false,"zero":false},"axis":{"values":[0.01,0.02,0.03,0.04],"labels":false,"ticks":false,"title":null,"gridWidth":{"condition":{"test":"round(datum.value*100)%2==1","value":1.2},"value":2.4}}},"y":{"field":"y","type":"quantitative","scale":{"domain":[-60,1260],"nice":false,"zero":false},"axis":{"values":[0,125,250,375,500,625,750,875,1000,1125,1250],"format":"d","labelExpr":"datum.value%250!=0?'':datum.label","title":null,"tickColor":{"condition":{"test":"datum.value%250!=0","value":"transparent"},"value":"#333333"},"gridWidth":{"condition":{"test":"datum.value%250!=0","value":1.2},"value":2.4}}},"color":{"field":"v","type":"quantitative","scale":{"domain":[0,0.02,0.04,0.06,0.08],"range":["#00FF00","#96D600","#C8AA00","#E87800","#FF0000"],"interpolate":"lab"},"legend":{"type":"symbol","values":[0,0.02,0.04,0.06,0.08],"format":".2f","title":"Bias","legendX":1597.1,"legendY":469.7}}}},
{"width":1,"height":1,"data":{"values":[]},"mark":"point"},
{"width":358.2,"height":432.9,"view":{"fill":"#FFFFFF","stroke":"#333333","strokeWidth":2.5},"data":{"name":"bias"},"transform":[{"filter":"datum.l==1&&datum.m==2"}],"mark":{"type":"rect","width":65.6,"height":79.2},"encoding":{"x":{"field":"x","type":"quantitative","scale":{"domain":[0.00025,0.04975],"nice":false,"zero":false},"axis":{"values":[0.01,0.02,0.03,0.04],"labels":false,"ticks":false,"title":null,"gridWidth":{"condition":{"test":"round(datum.value*100)%2==1","value":1.2},"value":2.4}}},"y":{"field":"y","type":"quantitative","scale":{"domain":[-60,1260],"nice":false,"zero":false},"axis":{"values":[0,125,250,375,500,625,750,875,1000,1125,1250],"labels":false,"ticks":false,"title":null,"gridWidth":{"condition":{"test":"datum.value%250!=0","value":1.2},"value":2.4}}},"color":{"field":"v","type":"quantitative","scale":{"domain":[0,0.02,0.04,0.06,0.08],"range":["#00FF00","#96D600","#C8AA00","#E87800","#FF0000"],"interpolate":"lab"},"legend":{"type":"symbol","values":[0,0.02,0.04,0.06,0.08],"format":".2f","title":"Bias","legendX":1597.1,"legendY":469.7}}}},
{"width":1,"height":1,"data":{"values":[]},"mark":"point"},
{"width":358.2,"height":432.9,"view":{"fill":"#FFFFFF","stroke":"#333333","strokeWidth":2.5},"data":{"name":"bias"},"transform":[{"filter":"datum.l==1&&datum.m==3"}],"mark":{"type":"rect","width":65.6,"height":79.2},"encoding":{"x":{"field":"x","type":"quantitative","scale":{"domain":[0.00025,0.04975],"nice":false,"zero":false},"axis":{"values":[0.01,0.02,0.03,0.04],"labels":false,"ticks":false,"title":null,"gridWidth":{"condition":{"test":"round(datum.value*100)%2==1","value":1.2},"value":2.4}}},"y":{"field":"y","type":"quantitative","scale":{"domain":[-60,1260],"nice":false,"zero":false},"axis":{"values":[0,125,250,375,500,625,750,875,1000,1125,1250],"labels":false,"ticks":false,"title":null,"gridWidth":{"condition":{"test":"datum.value%250!=0","value":1.2},"value":2.4}}},"color":{"field":"v","type":"quantitative","scale":{"domain":[0,0.02,0.04,0.06,0.08],"range":["#00FF00","#96D600","#C8AA00","#E87800","#FF0000"],"interpolate":"lab"},"legend":{"type":"symbol","values":[0,0.02,0.04,0.06,0.08],"format":".2f","title":"Bias","legendX":1597.1,"legendY":469.7}}}},
{"width":1,"height":1,"data":{"values":[]},"mark":"point"},
{"width":358.2,"height":432.9,"view":{"fill":"#FFFFFF","stroke":"#333333","strokeWidth":2.5},"data":{"name":"bias"},"transform":[{"filter":"datum.l==1&&datum.m==4"}],"mark":{"type":"rect","width":65.6,"height":79.2},"encoding":{"x":{"field":"x","type":"quantitative","scale":{"domain":[0.00025,0.04975],"nice":false,"zero":false},"axis":{"values":[0.01,0.02,0.03,0.04],"labels":false,"ticks":false,"title":null,"gridWidth":{"condition":{"test":"round(datum.value*100)%2==1","value":1.2},"value":2.4}}},"y":{"field":"y","type":"quantitative","scale":{"domain":[-60,1260],"nice":false,"zero":false},"axis":{"values":[0,125,250,375,500,625,750,875,1000,1125,1250],"labels":false,"ticks":false,"title":null,"gridWidth":{"condition":{"test":"datum.value%250!=0","value":1.2},"value":2.4}}},"color":{"field":"v","type":"quantitative","scale":{"domain":[0,0.02,0.04,0.06,0.08],"range":["#00FF00","#96D600","#C8AA00","#E87800","#FF0000"],"interpolate":"lab"},"legend":{"type":"symbol","values":[0,0.02,0.04,0.06,0.08],"format":".2f","title":"Bias","legendX":1597.1,"legendY":469.7}}}},
{"width":55,"height":432.9,"view":{"fill":"#D9D9D9","stroke":"#333333","strokeWidth":2.5},"data":{"values":[{"t":"learner1"}]},"mark":{"type":"text","fontSize":27.6,"color":"#1A1A1A","angle":90},"encoding":{"text":{"field":"t"}}},

{"width":1,"height":18.5,"data":{"values":[]},"mark":"point"},{"width":1,"height":18.5,"data":{"values":[]},"mark":"point"},{"width":1,"height":18.5,"data":{"values":[]},"mark":"point"},{"width":1,"height":18.5,"data":{"values":[]},"mark":"point"},{"width":1,"height":18.5,"data":{"values":[]},"mark":"point"},{"width":1,"height":18.5,"data":{"values":[]},"mark":"point"},{"width":1,"height":18.5,"data":{"values":[]},"mark":"point"},{"width":1,"height":18.5,"data":{"values":[]},"mark":"point"},

{"width":358.2,"height":432.9,"view":{"fill":"#FFFFFF","stroke":"#333333","strokeWidth":2.5},"data":{"name":"bias"},"transform":[{"filter":"datum.l==2&&datum.m==1"}],"mark":{"type":"rect","width":65.6,"height":79.2},"encoding":{"x":{"field":"x","type":"quantitative","scale":{"domain":[0.00025,0.04975],"nice":false,"zero":false},"axis":{"values":[0.01,0.02,0.03,0.04],"labels":false,"ticks":false,"title":null,"gridWidth":{"condition":{"test":"round(datum.value*100)%2==1","value":1.2},"value":2.4}}},"y":{"field":"y","type":"quantitative","scale":{"domain":[-60,1260],"nice":false,"zero":false},"axis":{"values":[0,125,250,375,500,625,750,875,1000,1125,1250],"format":"d","labelExpr":"datum.value%250!=0?'':datum.label","title":"sample size","titlePadding":22,"tickColor":{"condition":{"test":"datum.value%250!=0","value":"transparent"},"value":"#333333"},"gridWidth":{"condition":{"test":"datum.value%250!=0","value":1.2},"value":2.4}}},"color":{"field":"v","type":"quantitative","scale":{"domain":[0,0.02,0.04,0.06,0.08],"range":["#00FF00","#96D600","#C8AA00","#E87800","#FF0000"],"interpolate":"lab"},"legend":{"type":"symbol","values":[0,0.02,0.04,0.06,0.08],"format":".2f","title":"Bias","legendX":1597.1,"legendY":469.7}}}},
{"width":1,"height":1,"data":{"values":[]},"mark":"point"},
{"width":358.2,"height":432.9,"view":{"fill":"#FFFFFF","stroke":"#333333","strokeWidth":2.5},"data":{"name":"bias"},"transform":[{"filter":"datum.l==2&&datum.m==2"}],"mark":{"type":"rect","width":65.6,"height":79.2},"encoding":{"x":{"field":"x","type":"quantitative","scale":{"domain":[0.00025,0.04975],"nice":false,"zero":false},"axis":{"values":[0.01,0.02,0.03,0.04],"labels":false,"ticks":false,"title":null,"gridWidth":{"condition":{"test":"round(datum.value*100)%2==1","value":1.2},"value":2.4}}},"y":{"field":"y","type":"quantitative","scale":{"domain":[-60,1260],"nice":false,"zero":false},"axis":{"values":[0,125,250,375,500,625,750,875,1000,1125,1250],"labels":false,"ticks":false,"title":null,"gridWidth":{"condition":{"test":"datum.value%250!=0","value":1.2},"value":2.4}}},"color":{"field":"v","type":"quantitative","scale":{"domain":[0,0.02,0.04,0.06,0.08],"range":["#00FF00","#96D600","#C8AA00","#E87800","#FF0000"],"interpolate":"lab"},"legend":{"type":"symbol","values":[0,0.02,0.04,0.06,0.08],"format":".2f","title":"Bias","legendX":1597.1,"legendY":469.7}}}},
{"width":1,"height":1,"data":{"values":[]},"mark":"point"},
{"width":358.2,"height":432.9,"view":{"fill":"#FFFFFF","stroke":"#333333","strokeWidth":2.5},"data":{"name":"bias"},"transform":[{"filter":"datum.l==2&&datum.m==3"}],"mark":{"type":"rect","width":65.6,"height":79.2},"encoding":{"x":{"field":"x","type":"quantitative","scale":{"domain":[0.00025,0.04975],"nice":false,"zero":false},"axis":{"values":[0.01,0.02,0.03,0.04],"labels":false,"ticks":false,"title":null,"gridWidth":{"condition":{"test":"round(datum.value*100)%2==1","value":1.2},"value":2.4}}},"y":{"field":"y","type":"quantitative","scale":{"domain":[-60,1260],"nice":false,"zero":false},"axis":{"values":[0,125,250,375,500,625,750,875,1000,1125,1250],"labels":false,"ticks":false,"title":null,"gridWidth":{"condition":{"test":"datum.value%250!=0","value":1.2},"value":2.4}}},"color":{"field":"v","type":"quantitative","scale":{"domain":[0,0.02,0.04,0.06,0.08],"range":["#00FF00","#96D600","#C8AA00","#E87800","#FF0000"],"interpolate":"lab"},"legend":{"type":"symbol","values":[0,0.02,0.04,0.06,0.08],"format":".2f","title":"Bias","legendX":1597.1,"legendY":469.7}}}},
{"width":1,"height":1,"data":{"values":[]},"mark":"point"},
{"width":358.2,"height":432.9,"view":{"fill":"#FFFFFF","stroke":"#333333","strokeWidth":2.5},"data":{"name":"bias"},"transform":[{"filter":"datum.l==2&&datum.m==4"}],"mark":{"type":"rect","width":65.6,"height":79.2},"encoding":{"x":{"field":"x","type":"quantitative","scale":{"domain":[0.00025,0.04975],"nice":false,"zero":false},"axis":{"values":[0.01,0.02,0.03,0.04],"labels":false,"ticks":false,"title":null,"gridWidth":{"condition":{"test":"round(datum.value*100)%2==1","value":1.2},"value":2.4}}},"y":{"field":"y","type":"quantitative","scale":{"domain":[-60,1260],"nice":false,"zero":false},"axis":{"values":[0,125,250,375,500,625,750,875,1000,1125,1250],"labels":false,"ticks":false,"title":null,"gridWidth":{"condition":{"test":"datum.value%250!=0","value":1.2},"value":2.4}}},"color":{"field":"v","type":"quantitative","scale":{"domain":[0,0.02,0.04,0.06,0.08],"range":["#00FF00","#96D600","#C8AA00","#E87800","#FF0000"],"interpolate":"lab"},"legend":{"type":"symbol","values":[0,0.02,0.04,0.06,0.08],"format":".2f","title":"Bias","legendX":1597.1,"legendY":469.7}}}},
{"width":55,"height":432.9,"view":{"fill":"#D9D9D9","stroke":"#333333","strokeWidth":2.5},"data":{"values":[{"t":"learner2"}]},"mark":{"type":"text","fontSize":27.6,"color":"#1A1A1A","angle":90},"encoding":{"text":{"field":"t"}}},

{"width":1,"height":18.5,"data":{"values":[]},"mark":"point"},{"width":1,"height":18.5,"data":{"values":[]},"mark":"point"},{"width":1,"height":18.5,"data":{"values":[]},"mark":"point"},{"width":1,"height":18.5,"data":{"values":[]},"mark":"point"},{"width":1,"height":18.5,"data":{"values":[]},"mark":"point"},{"width":1,"height":18.5,"data":{"values":[]},"mark":"point"},{"width":1,"height":18.5,"data":{"values":[]},"mark":"point"},{"width":1,"height":18.5,"data":{"values":[]},"mark":"point"},

{"width":358.2,"height":432.9,"view":{"fill":"#FFFFFF","stroke":"#333333","strokeWidth":2.5},"data":{"name":"bias"},"transform":[{"filter":"datum.l==3&&datum.m==1"}],"mark":{"type":"rect","width":65.6,"height":79.2},"encoding":{"x":{"field":"x","type":"quantitative","scale":{"domain":[0.00025,0.04975],"nice":false,"zero":false},"axis":{"values":[0.01,0.02,0.03,0.04],"format":".2f","labelExpr":"round(datum.value*100)%2==1?'':datum.label","title":"truncation level","titleX":744,"titlePadding":2,"tickColor":{"condition":{"test":"round(datum.value*100)%2==1","value":"transparent"},"value":"#333333"},"gridWidth":{"condition":{"test":"round(datum.value*100)%2==1","value":1.2},"value":2.4}}},"y":{"field":"y","type":"quantitative","scale":{"domain":[-60,1260],"nice":false,"zero":false},"axis":{"values":[0,125,250,375,500,625,750,875,1000,1125,1250],"format":"d","labelExpr":"datum.value%250!=0?'':datum.label","title":null,"tickColor":{"condition":{"test":"datum.value%250!=0","value":"transparent"},"value":"#333333"},"gridWidth":{"condition":{"test":"datum.value%250!=0","value":1.2},"value":2.4}}},"color":{"field":"v","type":"quantitative","scale":{"domain":[0,0.02,0.04,0.06,0.08],"range":["#00FF00","#96D600","#C8AA00","#E87800","#FF0000"],"interpolate":"lab"},"legend":{"type":"symbol","values":[0,0.02,0.04,0.06,0.08],"format":".2f","title":"Bias","legendX":1597.1,"legendY":469.7}}}},
{"width":1,"height":1,"data":{"values":[]},"mark":"point"},
{"width":358.2,"height":432.9,"view":{"fill":"#FFFFFF","stroke":"#333333","strokeWidth":2.5},"data":{"name":"bias"},"transform":[{"filter":"datum.l==3&&datum.m==2"}],"mark":{"type":"rect","width":65.6,"height":79.2},"encoding":{"x":{"field":"x","type":"quantitative","scale":{"domain":[0.00025,0.04975],"nice":false,"zero":false},"axis":{"values":[0.01,0.02,0.03,0.04],"format":".2f","labelExpr":"round(datum.value*100)%2==1?'':datum.label","title":null,"tickColor":{"condition":{"test":"round(datum.value*100)%2==1","value":"transparent"},"value":"#333333"},"gridWidth":{"condition":{"test":"round(datum.value*100)%2==1","value":1.2},"value":2.4}}},"y":{"field":"y","type":"quantitative","scale":{"domain":[-60,1260],"nice":false,"zero":false},"axis":{"values":[0,125,250,375,500,625,750,875,1000,1125,1250],"labels":false,"ticks":false,"title":null,"gridWidth":{"condition":{"test":"datum.value%250!=0","value":1.2},"value":2.4}}},"color":{"field":"v","type":"quantitative","scale":{"domain":[0,0.02,0.04,0.06,0.08],"range":["#00FF00","#96D600","#C8AA00","#E87800","#FF0000"],"interpolate":"lab"},"legend":{"type":"symbol","values":[0,0.02,0.04,0.06,0.08],"format":".2f","title":"Bias","legendX":1597.1,"legendY":469.7}}}},
{"width":1,"height":1,"data":{"values":[]},"mark":"point"},
{"width":358.2,"height":432.9,"view":{"fill":"#FFFFFF","stroke":"#333333","strokeWidth":2.5},"data":{"name":"bias"},"transform":[{"filter":"datum.l==3&&datum.m==3"}],"mark":{"type":"rect","width":65.6,"height":79.2},"encoding":{"x":{"field":"x","type":"quantitative","scale":{"domain":[0.00025,0.04975],"nice":false,"zero":false},"axis":{"values":[0.01,0.02,0.03,0.04],"format":".2f","labelExpr":"round(datum.value*100)%2==1?'':datum.label","title":null,"tickColor":{"condition":{"test":"round(datum.value*100)%2==1","value":"transparent"},"value":"#333333"},"gridWidth":{"condition":{"test":"round(datum.value*100)%2==1","value":1.2},"value":2.4}}},"y":{"field":"y","type":"quantitative","scale":{"domain":[-60,1260],"nice":false,"zero":false},"axis":{"values":[0,125,250,375,500,625,750,875,1000,1125,1250],"labels":false,"ticks":false,"title":null,"gridWidth":{"condition":{"test":"datum.value%250!=0","value":1.2},"value":2.4}}},"color":{"field":"v","type":"quantitative","scale":{"domain":[0,0.02,0.04,0.06,0.08],"range":["#00FF00","#96D600","#C8AA00","#E87800","#FF0000"],"interpolate":"lab"},"legend":{"type":"symbol","values":[0,0.02,0.04,0.06,0.08],"format":".2f","title":"Bias","legendX":1597.1,"legendY":469.7}}}},
{"width":1,"height":1,"data":{"values":[]},"mark":"point"},
{"width":358.2,"height":432.9,"view":{"fill":"#FFFFFF","stroke":"#333333","strokeWidth":2.5},"data":{"name":"bias"},"transform":[{"filter":"datum.l==3&&datum.m==4"}],"mark":{"type":"rect","width":65.6,"height":79.2},"encoding":{"x":{"field":"x","type":"quantitative","scale":{"domain":[0.00025,0.04975],"nice":false,"zero":false},"axis":{"values":[0.01,0.02,0.03,0.04],"format":".2f","labelExpr":"round(datum.value*100)%2==1?'':datum.label","title":null,"tickColor":{"condition":{"test":"round(datum.value*100)%2==1","value":"transparent"},"value":"#333333"},"gridWidth":{"condition":{"test":"round(datum.value*100)%2==1","value":1.2},"value":2.4}}},"y":{"field":"y","type":"quantitative","scale":{"domain":[-60,1260],"nice":false,"zero":false},"axis":{"values":[0,125,250,375,500,625,750,875,1000,1125,1250],"labels":false,"ticks":false,"title":null,"gridWidth":{"condition":{"test":"datum.value%250!=0","value":1.2},"value":2.4}}},"color":{"field":"v","type":"quantitative","scale":{"domain":[0,0.02,0.04,0.06,0.08],"range":["#00FF00","#96D600","#C8AA00","#E87800","#FF0000"],"interpolate":"lab"},"legend":{"type":"symbol","values":[0,0.02,0.04,0.06,0.08],"format":".2f","title":"Bias","legendX":1597.1,"legendY":469.7}}}},
{"width":55,"height":432.9,"view":{"fill":"#D9D9D9","stroke":"#333333","strokeWidth":2.5},"data":{"values":[{"t":"learner3"}]},"mark":{"type":"text","fontSize":27.6,"color":"#1A1A1A","angle":90},"encoding":{"text":{"field":"t"}}}
]},

{"title":{"text":"Coverage probability at the end of follow-up","offset":9.5},"columns":8,"spacing":0,"bounds":"flush","align":"each","concat":[
{"width":349.9,"height":55,"view":{"fill":"#D9D9D9","stroke":"#333333","strokeWidth":2.5},"data":{"values":[{"t":"(1) always"}]},"mark":{"type":"text","fontSize":27.6,"color":"#1A1A1A"},"encoding":{"text":{"field":"t"}}},
{"width":18.7,"height":1,"data":{"values":[]},"mark":"point"},
{"width":349.9,"height":55,"view":{"fill":"#D9D9D9","stroke":"#333333","strokeWidth":2.5},"data":{"values":[{"t":"(2) 750/25%/−2"}]},"mark":{"type":"text","fontSize":27.6,"color":"#1A1A1A"},"encoding":{"text":{"field":"t"}}},
{"width":18.7,"height":1,"data":{"values":[]},"mark":"point"},
{"width":349.9,"height":55,"view":{"fill":"#D9D9D9","stroke":"#333333","strokeWidth":2.5},"data":{"values":[{"t":"(3) 350/15%/−2"}]},"mark":{"type":"text","fontSize":27.6,"color":"#1A1A1A"},"encoding":{"text":{"field":"t"}}},
{"width":18.7,"height":1,"data":{"values":[]},"mark":"point"},
{"width":349.9,"height":55,"view":{"fill":"#D9D9D9","stroke":"#333333","strokeWidth":2.5},"data":{"values":[{"t":"(4) never"}]},"mark":{"type":"text","fontSize":27.6,"color":"#1A1A1A"},"encoding":{"text":{"field":"t"}}},
{"width":1,"height":1,"data":{"values":[]},"mark":"point"},

{"width":349.9,"height":430.9,"view":{"fill":"#FFFFFF","stroke":"#333333","strokeWidth":2.5},"data":{"name":"cov"},"transform":[{"filter":"datum.l==1&&datum.m==1"}],"mark":{"type":"rect","width":64.1,"height":78.8},"encoding":{"x":{"field":"x","type":"quantitative","scale":{"domain":[0.00025,0.04975],"nice":false,"zero":false},"axis":{"values":[0.01,0.02,0.03,0.04],"labels":false,"ticks":false,"title":null,"gridWidth":{"condition":{"test":"round(datum.value*100)%2==1","value":1.2},"value":2.4}}},"y":{"field":"y","type":"quantitative","scale":{"domain":[-60,1260],"nice":false,"zero":false},"axis":{"values":[0,125,250,375,500,625,750,875,1000,1125,1250],"format":"d","labelExpr":"datum.value%250!=0?'':datum.label","title":null,"tickColor":{"condition":{"test":"datum.value%250!=0","value":"transparent"},"value":"#333333"},"gridWidth":{"condition":{"test":"datum.value%250!=0","value":1.2},"value":2.4}}},"color":{"field":"v","type":"quantitative","scale":{"domain":[0.75,0.8,0.85,0.9,0.95,1],"range":["#832226","#866028","#83962A","#6CCB1E","#00FF00","#52CE52"],"interpolate":"lab"},"legend":{"type":"symbol","values":[0.75,0.8,0.85,0.9,0.95,1],"format":".2f","title":"Coverage","legendX":1564.6,"legendY":418.2}}}},
{"width":1,"height":1,"data":{"values":[]},"mark":"point"},
{"width":349.9,"height":430.9,"view":{"fill":"#FFFFFF","stroke":"#333333","strokeWidth":2.5},"data":{"name":"cov"},"transform":[{"filter":"datum.l==1&&datum.m==2"}],"mark":{"type":"rect","width":64.1,"height":78.8},"encoding":{"x":{"field":"x","type":"quantitative","scale":{"domain":[0.00025,0.04975],"nice":false,"zero":false},"axis":{"values":[0.01,0.02,0.03,0.04],"labels":false,"ticks":false,"title":null,"gridWidth":{"condition":{"test":"round(datum.value*100)%2==1","value":1.2},"value":2.4}}},"y":{"field":"y","type":"quantitative","scale":{"domain":[-60,1260],"nice":false,"zero":false},"axis":{"values":[0,125,250,375,500,625,750,875,1000,1125,1250],"labels":false,"ticks":false,"title":null,"gridWidth":{"condition":{"test":"datum.value%250!=0","value":1.2},"value":2.4}}},"color":{"field":"v","type":"quantitative","scale":{"domain":[0.75,0.8,0.85,0.9,0.95,1],"range":["#832226","#866028","#83962A","#6CCB1E","#00FF00","#52CE52"],"interpolate":"lab"},"legend":{"type":"symbol","values":[0.75,0.8,0.85,0.9,0.95,1],"format":".2f","title":"Coverage","legendX":1564.6,"legendY":418.2}}}},
{"width":1,"height":1,"data":{"values":[]},"mark":"point"},
{"width":349.9,"height":430.9,"view":{"fill":"#FFFFFF","stroke":"#333333","strokeWidth":2.5},"data":{"name":"cov"},"transform":[{"filter":"datum.l==1&&datum.m==3"}],"mark":{"type":"rect","width":64.1,"height":78.8},"encoding":{"x":{"field":"x","type":"quantitative","scale":{"domain":[0.00025,0.04975],"nice":false,"zero":false},"axis":{"values":[0.01,0.02,0.03,0.04],"labels":false,"ticks":false,"title":null,"gridWidth":{"condition":{"test":"round(datum.value*100)%2==1","value":1.2},"value":2.4}}},"y":{"field":"y","type":"quantitative","scale":{"domain":[-60,1260],"nice":false,"zero":false},"axis":{"values":[0,125,250,375,500,625,750,875,1000,1125,1250],"labels":false,"ticks":false,"title":null,"gridWidth":{"condition":{"test":"datum.value%250!=0","value":1.2},"value":2.4}}},"color":{"field":"v","type":"quantitative","scale":{"domain":[0.75,0.8,0.85,0.9,0.95,1],"range":["#832226","#866028","#83962A","#6CCB1E","#00FF00","#52CE52"],"interpolate":"lab"},"legend":{"type":"symbol","values":[0.75,0.8,0.85,0.9,0.95,1],"format":".2f","title":"Coverage","legendX":1564.6,"legendY":418.2}}}},
{"width":1,"height":1,"data":{"values":[]},"mark":"point"},
{"width":349.9,"height":430.9,"view":{"fill":"#FFFFFF","stroke":"#333333","strokeWidth":2.5},"data":{"name":"cov"},"transform":[{"filter":"datum.l==1&&datum.m==4"}],"mark":{"type":"rect","width":64.1,"height":78.8},"encoding":{"x":{"field":"x","type":"quantitative","scale":{"domain":[0.00025,0.04975],"nice":false,"zero":false},"axis":{"values":[0.01,0.02,0.03,0.04],"labels":false,"ticks":false,"title":null,"gridWidth":{"condition":{"test":"round(datum.value*100)%2==1","value":1.2},"value":2.4}}},"y":{"field":"y","type":"quantitative","scale":{"domain":[-60,1260],"nice":false,"zero":false},"axis":{"values":[0,125,250,375,500,625,750,875,1000,1125,1250],"labels":false,"ticks":false,"title":null,"gridWidth":{"condition":{"test":"datum.value%250!=0","value":1.2},"value":2.4}}},"color":{"field":"v","type":"quantitative","scale":{"domain":[0.75,0.8,0.85,0.9,0.95,1],"range":["#832226","#866028","#83962A","#6CCB1E","#00FF00","#52CE52"],"interpolate":"lab"},"legend":{"type":"symbol","values":[0.75,0.8,0.85,0.9,0.95,1],"format":".2f","title":"Coverage","legendX":1564.6,"legendY":418.2}}}},
{"width":55,"height":430.9,"view":{"fill":"#D9D9D9","stroke":"#333333","strokeWidth":2.5},"data":{"values":[{"t":"learner1"}]},"mark":{"type":"text","fontSize":27.6,"color":"#1A1A1A","angle":90},"encoding":{"text":{"field":"t"}}},

{"width":1,"height":17.4,"data":{"values":[]},"mark":"point"},{"width":1,"height":17.4,"data":{"values":[]},"mark":"point"},{"width":1,"height":17.4,"data":{"values":[]},"mark":"point"},{"width":1,"height":17.4,"data":{"values":[]},"mark":"point"},{"width":1,"height":17.4,"data":{"values":[]},"mark":"point"},{"width":1,"height":17.4,"data":{"values":[]},"mark":"point"},{"width":1,"height":17.4,"data":{"values":[]},"mark":"point"},{"width":1,"height":17.4,"data":{"values":[]},"mark":"point"},

{"width":349.9,"height":430.9,"view":{"fill":"#FFFFFF","stroke":"#333333","strokeWidth":2.5},"data":{"name":"cov"},"transform":[{"filter":"datum.l==2&&datum.m==1"}],"mark":{"type":"rect","width":64.1,"height":78.8},"encoding":{"x":{"field":"x","type":"quantitative","scale":{"domain":[0.00025,0.04975],"nice":false,"zero":false},"axis":{"values":[0.01,0.02,0.03,0.04],"labels":false,"ticks":false,"title":null,"gridWidth":{"condition":{"test":"round(datum.value*100)%2==1","value":1.2},"value":2.4}}},"y":{"field":"y","type":"quantitative","scale":{"domain":[-60,1260],"nice":false,"zero":false},"axis":{"values":[0,125,250,375,500,625,750,875,1000,1125,1250],"format":"d","labelExpr":"datum.value%250!=0?'':datum.label","title":"sample size","titlePadding":22,"tickColor":{"condition":{"test":"datum.value%250!=0","value":"transparent"},"value":"#333333"},"gridWidth":{"condition":{"test":"datum.value%250!=0","value":1.2},"value":2.4}}},"color":{"field":"v","type":"quantitative","scale":{"domain":[0.75,0.8,0.85,0.9,0.95,1],"range":["#832226","#866028","#83962A","#6CCB1E","#00FF00","#52CE52"],"interpolate":"lab"},"legend":{"type":"symbol","values":[0.75,0.8,0.85,0.9,0.95,1],"format":".2f","title":"Coverage","legendX":1564.6,"legendY":418.2}}}},
{"width":1,"height":1,"data":{"values":[]},"mark":"point"},
{"width":349.9,"height":430.9,"view":{"fill":"#FFFFFF","stroke":"#333333","strokeWidth":2.5},"data":{"name":"cov"},"transform":[{"filter":"datum.l==2&&datum.m==2"}],"mark":{"type":"rect","width":64.1,"height":78.8},"encoding":{"x":{"field":"x","type":"quantitative","scale":{"domain":[0.00025,0.04975],"nice":false,"zero":false},"axis":{"values":[0.01,0.02,0.03,0.04],"labels":false,"ticks":false,"title":null,"gridWidth":{"condition":{"test":"round(datum.value*100)%2==1","value":1.2},"value":2.4}}},"y":{"field":"y","type":"quantitative","scale":{"domain":[-60,1260],"nice":false,"zero":false},"axis":{"values":[0,125,250,375,500,625,750,875,1000,1125,1250],"labels":false,"ticks":false,"title":null,"gridWidth":{"condition":{"test":"datum.value%250!=0","value":1.2},"value":2.4}}},"color":{"field":"v","type":"quantitative","scale":{"domain":[0.75,0.8,0.85,0.9,0.95,1],"range":["#832226","#866028","#83962A","#6CCB1E","#00FF00","#52CE52"],"interpolate":"lab"},"legend":{"type":"symbol","values":[0.75,0.8,0.85,0.9,0.95,1],"format":".2f","title":"Coverage","legendX":1564.6,"legendY":418.2}}}},
{"width":1,"height":1,"data":{"values":[]},"mark":"point"},
{"width":349.9,"height":430.9,"view":{"fill":"#FFFFFF","stroke":"#333333","strokeWidth":2.5},"data":{"name":"cov"},"transform":[{"filter":"datum.l==2&&datum.m==3"}],"mark":{"type":"rect","width":64.1,"height":78.8},"encoding":{"x":{"field":"x","type":"quantitative","scale":{"domain":[0.00025,0.04975],"nice":false,"zero":false},"axis":{"values":[0.01,0.02,0.03,0.04],"labels":false,"ticks":false,"title":null,"gridWidth":{"condition":{"test":"round(datum.value*100)%2==1","value":1.2},"value":2.4}}},"y":{"field":"y","type":"quantitative","scale":{"domain":[-60,1260],"nice":false,"zero":false},"axis":{"values":[0,125,250,375,500,625,750,875,1000,1125,1250],"labels":false,"ticks":false,"title":null,"gridWidth":{"condition":{"test":"datum.value%250!=0","value":1.2},"value":2.4}}},"color":{"field":"v","type":"quantitative","scale":{"domain":[0.75,0.8,0.85,0.9,0.95,1],"range":["#832226","#866028","#83962A","#6CCB1E","#00FF00","#52CE52"],"interpolate":"lab"},"legend":{"type":"symbol","values":[0.75,0.8,0.85,0.9,0.95,1],"format":".2f","title":"Coverage","legendX":1564.6,"legendY":418.2}}}},
{"width":1,"height":1,"data":{"values":[]},"mark":"point"},
{"width":349.9,"height":430.9,"view":{"fill":"#FFFFFF","stroke":"#333333","strokeWidth":2.5},"data":{"name":"cov"},"transform":[{"filter":"datum.l==2&&datum.m==4"}],"mark":{"type":"rect","width":64.1,"height":78.8},"encoding":{"x":{"field":"x","type":"quantitative","scale":{"domain":[0.00025,0.04975],"nice":false,"zero":false},"axis":{"values":[0.01,0.02,0.03,0.04],"labels":false,"ticks":false,"title":null,"gridWidth":{"condition":{"test":"round(datum.value*100)%2==1","value":1.2},"value":2.4}}},"y":{"field":"y","type":"quantitative","scale":{"domain":[-60,1260],"nice":false,"zero":false},"axis":{"values":[0,125,250,375,500,625,750,875,1000,1125,1250],"labels":false,"ticks":false,"title":null,"gridWidth":{"condition":{"test":"datum.value%250!=0","value":1.2},"value":2.4}}},"color":{"field":"v","type":"quantitative","scale":{"domain":[0.75,0.8,0.85,0.9,0.95,1],"range":["#832226","#866028","#83962A","#6CCB1E","#00FF00","#52CE52"],"interpolate":"lab"},"legend":{"type":"symbol","values":[0.75,0.8,0.85,0.9,0.95,1],"format":".2f","title":"Coverage","legendX":1564.6,"legendY":418.2}}}},
{"width":55,"height":430.9,"view":{"fill":"#D9D9D9","stroke":"#333333","strokeWidth":2.5},"data":{"values":[{"t":"learner2"}]},"mark":{"type":"text","fontSize":27.6,"color":"#1A1A1A","angle":90},"encoding":{"text":{"field":"t"}}},

{"width":1,"height":17.4,"data":{"values":[]},"mark":"point"},{"width":1,"height":17.4,"data":{"values":[]},"mark":"point"},{"width":1,"height":17.4,"data":{"values":[]},"mark":"point"},{"width":1,"height":17.4,"data":{"values":[]},"mark":"point"},{"width":1,"height":17.4,"data":{"values":[]},"mark":"point"},{"width":1,"height":17.4,"data":{"values":[]},"mark":"point"},{"width":1,"height":17.4,"data":{"values":[]},"mark":"point"},{"width":1,"height":17.4,"data":{"values":[]},"mark":"point"},

{"width":349.9,"height":430.9,"view":{"fill":"#FFFFFF","stroke":"#333333","strokeWidth":2.5},"data":{"name":"cov"},"transform":[{"filter":"datum.l==3&&datum.m==1"}],"mark":{"type":"rect","width":64.1,"height":78.8},"encoding":{"x":{"field":"x","type":"quantitative","scale":{"domain":[0.00025,0.04975],"nice":false,"zero":false},"axis":{"values":[0.01,0.02,0.03,0.04],"format":".2f","labelExpr":"round(datum.value*100)%2==1?'':datum.label","title":"truncation level","titleX":727.9,"titlePadding":2,"tickColor":{"condition":{"test":"round(datum.value*100)%2==1","value":"transparent"},"value":"#333333"},"gridWidth":{"condition":{"test":"round(datum.value*100)%2==1","value":1.2},"value":2.4}}},"y":{"field":"y","type":"quantitative","scale":{"domain":[-60,1260],"nice":false,"zero":false},"axis":{"values":[0,125,250,375,500,625,750,875,1000,1125,1250],"format":"d","labelExpr":"datum.value%250!=0?'':datum.label","title":null,"tickColor":{"condition":{"test":"datum.value%250!=0","value":"transparent"},"value":"#333333"},"gridWidth":{"condition":{"test":"datum.value%250!=0","value":1.2},"value":2.4}}},"color":{"field":"v","type":"quantitative","scale":{"domain":[0.75,0.8,0.85,0.9,0.95,1],"range":["#832226","#866028","#83962A","#6CCB1E","#00FF00","#52CE52"],"interpolate":"lab"},"legend":{"type":"symbol","values":[0.75,0.8,0.85,0.9,0.95,1],"format":".2f","title":"Coverage","legendX":1564.6,"legendY":418.2}}}},
{"width":1,"height":1,"data":{"values":[]},"mark":"point"},
{"width":349.9,"height":430.9,"view":{"fill":"#FFFFFF","stroke":"#333333","strokeWidth":2.5},"data":{"name":"cov"},"transform":[{"filter":"datum.l==3&&datum.m==2"}],"mark":{"type":"rect","width":64.1,"height":78.8},"encoding":{"x":{"field":"x","type":"quantitative","scale":{"domain":[0.00025,0.04975],"nice":false,"zero":false},"axis":{"values":[0.01,0.02,0.03,0.04],"format":".2f","labelExpr":"round(datum.value*100)%2==1?'':datum.label","title":null,"tickColor":{"condition":{"test":"round(datum.value*100)%2==1","value":"transparent"},"value":"#333333"},"gridWidth":{"condition":{"test":"round(datum.value*100)%2==1","value":1.2},"value":2.4}}},"y":{"field":"y","type":"quantitative","scale":{"domain":[-60,1260],"nice":false,"zero":false},"axis":{"values":[0,125,250,375,500,625,750,875,1000,1125,1250],"labels":false,"ticks":false,"title":null,"gridWidth":{"condition":{"test":"datum.value%250!=0","value":1.2},"value":2.4}}},"color":{"field":"v","type":"quantitative","scale":{"domain":[0.75,0.8,0.85,0.9,0.95,1],"range":["#832226","#866028","#83962A","#6CCB1E","#00FF00","#52CE52"],"interpolate":"lab"},"legend":{"type":"symbol","values":[0.75,0.8,0.85,0.9,0.95,1],"format":".2f","title":"Coverage","legendX":1564.6,"legendY":418.2}}}},
{"width":1,"height":1,"data":{"values":[]},"mark":"point"},
{"width":349.9,"height":430.9,"view":{"fill":"#FFFFFF","stroke":"#333333","strokeWidth":2.5},"data":{"name":"cov"},"transform":[{"filter":"datum.l==3&&datum.m==3"}],"mark":{"type":"rect","width":64.1,"height":78.8},"encoding":{"x":{"field":"x","type":"quantitative","scale":{"domain":[0.00025,0.04975],"nice":false,"zero":false},"axis":{"values":[0.01,0.02,0.03,0.04],"format":".2f","labelExpr":"round(datum.value*100)%2==1?'':datum.label","title":null,"tickColor":{"condition":{"test":"round(datum.value*100)%2==1","value":"transparent"},"value":"#333333"},"gridWidth":{"condition":{"test":"round(datum.value*100)%2==1","value":1.2},"value":2.4}}},"y":{"field":"y","type":"quantitative","scale":{"domain":[-60,1260],"nice":false,"zero":false},"axis":{"values":[0,125,250,375,500,625,750,875,1000,1125,1250],"labels":false,"ticks":false,"title":null,"gridWidth":{"condition":{"test":"datum.value%250!=0","value":1.2},"value":2.4}}},"color":{"field":"v","type":"quantitative","scale":{"domain":[0.75,0.8,0.85,0.9,0.95,1],"range":["#832226","#866028","#83962A","#6CCB1E","#00FF00","#52CE52"],"interpolate":"lab"},"legend":{"type":"symbol","values":[0.75,0.8,0.85,0.9,0.95,1],"format":".2f","title":"Coverage","legendX":1564.6,"legendY":418.2}}}},
{"width":1,"height":1,"data":{"values":[]},"mark":"point"},
{"width":349.9,"height":430.9,"view":{"fill":"#FFFFFF","stroke":"#333333","strokeWidth":2.5},"data":{"name":"cov"},"transform":[{"filter":"datum.l==3&&datum.m==4"}],"mark":{"type":"rect","width":64.1,"height":78.8},"encoding":{"x":{"field":"x","type":"quantitative","scale":{"domain":[0.00025,0.04975],"nice":false,"zero":false},"axis":{"values":[0.01,0.02,0.03,0.04],"format":".2f","labelExpr":"round(datum.value*100)%2==1?'':datum.label","title":null,"tickColor":{"condition":{"test":"round(datum.value*100)%2==1","value":"transparent"},"value":"#333333"},"gridWidth":{"condition":{"test":"round(datum.value*100)%2==1","value":1.2},"value":2.4}}},"y":{"field":"y","type":"quantitative","scale":{"domain":[-60,1260],"nice":false,"zero":false},"axis":{"values":[0,125,250,375,500,625,750,875,1000,1125,1250],"labels":false,"ticks":false,"title":null,"gridWidth":{"condition":{"test":"datum.value%250!=0","value":1.2},"value":2.4}}},"color":{"field":"v","type":"quantitative","scale":{"domain":[0.75,0.8,0.85,0.9,0.95,1],"range":["#832226","#866028","#83962A","#6CCB1E","#00FF00","#52CE52"],"interpolate":"lab"},"legend":{"type":"symbol","values":[0.75,0.8,0.85,0.9,0.95,1],"format":".2f","title":"Coverage","legendX":1564.6,"legendY":418.2}}}},
{"width":55,"height":430.9,"view":{"fill":"#D9D9D9","stroke":"#333333","strokeWidth":2.5},"data":{"values":[{"t":"learner3"}]},"mark":{"type":"text","fontSize":27.6,"color":"#1A1A1A","angle":90},"encoding":{"text":{"field":"t"}}}
]}
]
}
